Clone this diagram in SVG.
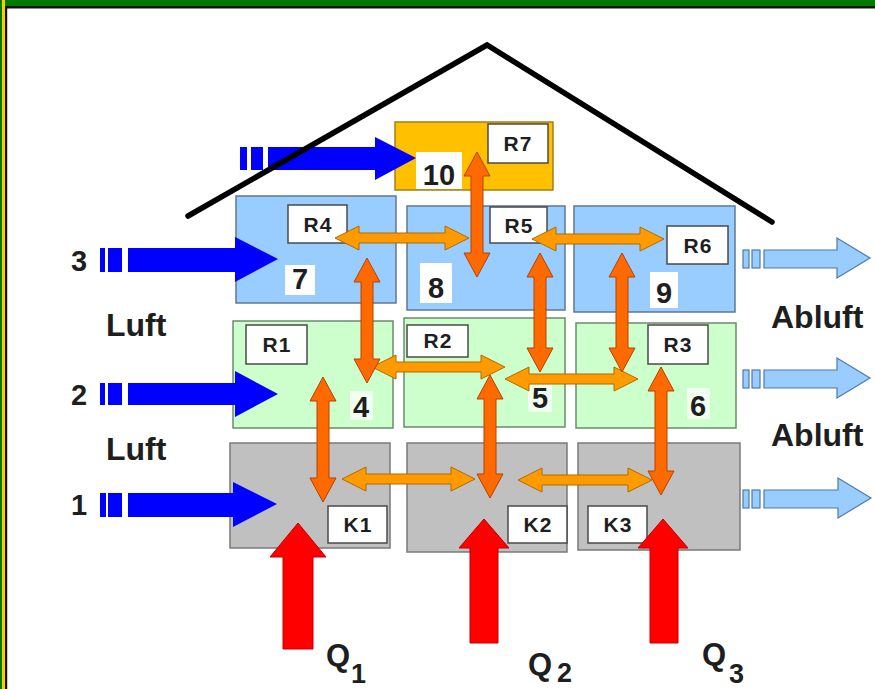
<svg xmlns="http://www.w3.org/2000/svg" width="875" height="689" viewBox="0 0 875 689">
<style>
.rb{fill:#99CCFF;stroke:#5F7892;stroke-width:1.5}
.rg{fill:#CCFFCC;stroke:#6E8A6E;stroke-width:1.5}
.rk{fill:#C0C0C0;stroke:#7A7A7A;stroke-width:1.5}
.ry{fill:#FFC000;stroke:#A08020;stroke-width:1.5}
.lb{fill:#FFFFFF;stroke:#4A4A4A;stroke-width:1.5}
.nb{fill:#FFFFFF}
.nbf{fill:#FFFFFF;opacity:0.7}
.lt{font-family:"Liberation Sans",Arial,sans-serif;font-weight:bold;font-size:21px;letter-spacing:1px;fill:#1E1E1E;text-anchor:middle}
.num{font-family:"Liberation Sans",Arial,sans-serif;font-weight:bold;font-size:29px;fill:#1E1E1E;text-anchor:middle}
.side{font-family:"Liberation Sans",Arial,sans-serif;font-weight:bold;font-size:32px;fill:#1E1E1E}
.sidenum{font-family:"Liberation Sans",Arial,sans-serif;font-weight:bold;font-size:29px;fill:#1E1E1E}
.q{font-family:"Liberation Sans",Arial,sans-serif;font-weight:bold;font-size:31px;fill:#1E1E1E}
.qs{font-family:"Liberation Sans",Arial,sans-serif;font-weight:bold;font-size:27px;fill:#1E1E1E}
.ho{fill:#FF9A00;stroke:#B06A00;stroke-width:1}
.vo{fill:#FF6A00;stroke:#B84000;stroke-width:1}
.bin{fill:#0000FF}
.bout{fill:#99CCFF;stroke:#4F7AA8;stroke-width:1.2}
.heat{fill:#FF0000;stroke:#C00000;stroke-width:1}
</style>

<!-- frame -->
<rect x="0" y="0" width="875" height="6" fill="#007A00"/>
<rect x="0" y="6" width="875" height="2.5" fill="#111"/>
<rect x="0" y="0" width="2" height="689" fill="#007A00"/>
<rect x="2" y="0" width="3" height="689" fill="#FFCC00"/>
<rect x="5" y="6" width="2.2" height="683" fill="#111"/>

<!-- rooms -->
<g id="room10"><rect class="ry" x="395" y="122" width="158" height="68"/><rect class="lb" x="488" y="124" width="60" height="39"/><text class="lt" x="518" y="151">R7</text><rect class="nb" x="416" y="152" width="46" height="37"/><text class="num" x="439" y="185">10</text></g>
<g id="room7"><rect class="rb" x="236" y="196" width="160" height="107"/><rect class="lb" x="288" y="205" width="59" height="38"/><text class="lt" x="318" y="232">R4</text><rect class="nb" x="285" y="265" width="30" height="30"/><text class="num" x="300" y="289">7</text></g>
<g id="room8"><rect class="rb" x="407" y="206" width="158" height="104"/><rect class="lb" x="490" y="207" width="57" height="36"/><text class="lt" x="519" y="233">R5</text><rect class="nb" x="420" y="263" width="32" height="40"/><text class="num" x="436" y="298">8</text></g>
<g id="room9"><rect class="rb" x="574" y="206" width="161" height="106"/><rect class="lb" x="667" y="226" width="61" height="38"/><text class="lt" x="698" y="253">R6</text><rect class="nb" x="650" y="272" width="28" height="36"/><text class="num" x="664" y="303">9</text></g>
<g id="room4"><rect class="rg" x="233" y="321" width="160" height="107"/><rect class="lb" x="246" y="325" width="61" height="39"/><text class="lt" x="277" y="352">R1</text><rect class="nbf" x="350" y="391" width="23" height="29"/><text class="num" x="361" y="417">4</text></g>
<g id="room5"><rect class="rg" x="404" y="318" width="161" height="109"/><rect class="lb" x="407" y="325" width="61" height="32"/><text class="lt" x="438" y="348">R2</text><rect class="nbf" x="528" y="385" width="24" height="27"/><text class="num" x="540" y="408">5</text></g>
<g id="room6"><rect class="rg" x="576" y="323" width="160" height="105"/><rect class="lb" x="648" y="325" width="60" height="39"/><text class="lt" x="678" y="352">R3</text><rect class="nbf" x="687" y="388" width="23" height="31"/><text class="num" x="698" y="416">6</text></g>
<g id="k1"><rect class="rk" x="230" y="443" width="160" height="105"/><rect class="lb" x="328" y="506" width="59" height="37"/><text class="lt" x="358" y="532">K1</text></g>
<g id="k2"><rect class="rk" x="407" y="443" width="160" height="109"/><rect class="lb" x="508" y="506" width="59" height="37"/><text class="lt" x="538" y="532">K2</text></g>
<g id="k3"><rect class="rk" x="578" y="443" width="162" height="107"/><rect class="lb" x="588" y="506" width="59" height="37"/><text class="lt" x="618" y="532">K3</text></g>

<!-- connectors -->
<g id="connectors">
<!-- air inlets -->
<rect class="bin" x="240" y="147" width="7" height="23"/><rect class="bin" x="251" y="147" width="12" height="23"/>
<polygon class="bin" points="268,147 375,147 375,137 416,158 375,180 375,170 268,170"/>
<rect class="bin" x="100" y="248" width="5" height="24"/><rect class="bin" x="108" y="248" width="14" height="24"/>
<polygon class="bin" points="128,248 235,248 235,237 278,259 235,282 235,272 128,272"/>
<rect class="bin" x="100" y="383" width="5" height="22"/><rect class="bin" x="108" y="383" width="14" height="22"/>
<polygon class="bin" points="128,383 235,383 235,371 278,394 235,417 235,405 128,405"/>
<rect class="bin" x="100" y="493" width="6" height="24"/><rect class="bin" x="108" y="493" width="14" height="24"/>
<polygon class="bin" points="128,493 233,493 233,482 277,504 233,527 233,517 128,517"/>
<!-- exhaust -->
<rect class="bout" x="743" y="250" width="6" height="18"/><rect class="bout" x="752" y="250" width="8" height="18"/>
<polygon class="bout" points="764,250 837,250 837,238 870,258 837,278 837,268 764,268"/>
<rect class="bout" x="743" y="370" width="6" height="18"/><rect class="bout" x="752" y="370" width="8" height="18"/>
<polygon class="bout" points="764,370 837,370 837,358 870,378 837,398 837,388 764,388"/>
<rect class="bout" x="743" y="490" width="6" height="18"/><rect class="bout" x="752" y="490" width="8" height="18"/>
<polygon class="bout" points="764,490 838,490 838,478 871,498 838,518 838,508 764,508"/>
<!-- heat -->
<polygon class="heat" points="283,649 283,557 270,557 298,523 326,557 313,557 313,649"/>
<polygon class="heat" points="470,643 470,548 459,548 484,519 509,548 498,548 498,643"/>
<polygon class="heat" points="650,643 650,548 638,548 663,519 688,548 678,548 678,643"/>
<!-- horizontal exchange -->
<polygon class="ho" points="335,238 359,226 359,233 445,233 445,226 469,238 445,250 445,243 359,243 359,250"/>
<polygon class="ho" points="532,239 556,227 556,234 640,234 640,227 664,239 640,251 640,244 556,244 556,251"/>
<polygon class="ho" points="372,367 396,355 396,362 481,362 481,355 505,367 481,379 481,372 396,372 396,379"/>
<polygon class="ho" points="505,379 529,367 529,374 614,374 614,367 638,379 614,391 614,384 529,384 529,391"/>
<polygon class="ho" points="342,479 366,467 366,474 451,474 451,467 475,479 451,491 451,484 366,484 366,491"/>
<polygon class="ho" points="518,480 542,468 542,475 628,475 628,468 652,480 628,492 628,485 542,485 542,492"/>
<!-- vertical exchange -->
<polygon class="vo" points="477,152 490,176 483,176 483,253 490,253 477,277 464,253 471,253 471,176 464,176"/>
<polygon class="vo" points="367,258 380,282 373,282 373,359 380,359 367,383 354,359 361,359 361,282 354,282"/>
<polygon class="vo" points="540,253 553,277 546,277 546,348 553,348 540,372 527,348 534,348 534,277 527,277"/>
<polygon class="vo" points="622,253 635,277 628,277 628,348 635,348 622,372 609,348 616,348 616,277 609,277"/>
<polygon class="vo" points="323,377 336,401 329,401 329,478 336,478 323,502 310,478 317,478 317,401 310,401"/>
<polygon class="vo" points="490,375 503,399 496,399 496,474 503,474 490,498 477,474 484,474 484,399 477,399"/>
<polygon class="vo" points="661,367 674,391 667,391 667,471 674,471 661,495 648,471 655,471 655,391 648,391"/>
</g>

<!-- roof -->
<polyline points="188,216 487,45 772,222" fill="none" stroke="#000" stroke-width="5.5" stroke-linecap="round" stroke-linejoin="miter"/>

<!-- side labels -->
<text class="sidenum" x="71" y="271">3</text>
<text class="sidenum" x="71" y="405">2</text>
<text class="sidenum" x="71" y="515">1</text>
<text class="side" x="106" y="336">Luft</text>
<text class="side" x="106" y="460">Luft</text>
<text class="side" x="771" y="328">Abluft</text>
<text class="side" x="771" y="446">Abluft</text>
<text class="q" x="326" y="666">Q</text><text class="qs" x="351" y="683">1</text>
<text class="q" x="528" y="675">Q</text><text class="qs" x="557" y="682">2</text>
<text class="q" x="702" y="665">Q</text><text class="qs" x="729" y="683">3</text>
</svg>
